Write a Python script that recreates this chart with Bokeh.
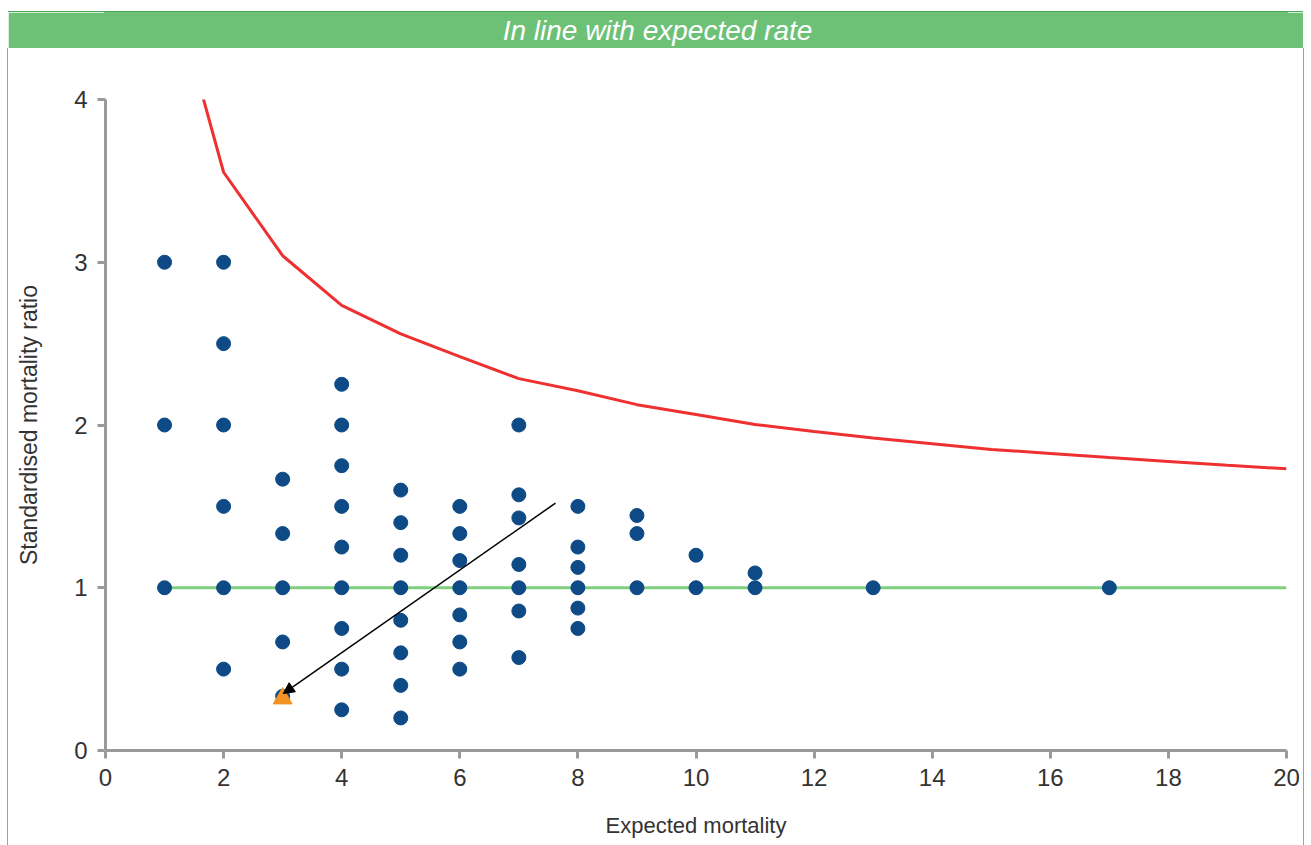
from bokeh.plotting import figure
from bokeh.models import Range1d, FixedTicker, Label, Arrow, NormalHead
from bokeh.layouts import column
from bokeh.embed import file_html
from bokeh.resources import INLINE

# ---------------- data ----------------
title_text = "In line with expected rate"
x_label = "Expected mortality"
y_label = "Standardised mortality ratio"

x_ticks = [0, 2, 4, 6, 8, 10, 12, 14, 16, 18, 20]
y_ticks = [0, 1, 2, 3, 4]

# observed units (expected mortality, SMR)
point_expected = (
    [1, 1, 1]
    + [2, 2, 2, 2, 2, 2]
    + [3, 3, 3, 3, 3]
    + [4, 4, 4, 4, 4, 4, 4, 4, 4]
    + [5, 5, 5, 5, 5, 5, 5, 5]
    + [6, 6, 6, 6, 6, 6, 6]
    + [7, 7, 7, 7, 7, 7, 7]
    + [8, 8, 8, 8, 8, 8]
    + [9, 9, 9]
    + [10, 10]
    + [11, 11]
    + [13]
    + [17]
)
point_smr = (
    [1.0, 2.0, 3.0]
    + [0.5, 1.0, 1.5, 2.0, 2.5, 3.0]
    + [0.333, 0.667, 1.0, 1.333, 1.667]
    + [0.25, 0.5, 0.75, 1.0, 1.25, 1.5, 1.75, 2.0, 2.25]
    + [0.2, 0.4, 0.6, 0.8, 1.0, 1.2, 1.4, 1.6]
    + [0.5, 0.667, 0.833, 1.0, 1.167, 1.333, 1.5]
    + [0.571, 0.857, 1.0, 1.143, 1.429, 1.571, 2.0]
    + [0.75, 0.875, 1.0, 1.125, 1.25, 1.5]
    + [1.0, 1.333, 1.444]
    + [1.0, 1.2]
    + [1.0, 1.091]
    + [1.0]
    + [1.0]
)

# upper control limit
limit_expected = [1, 2, 3, 4, 5, 6, 7, 8, 9, 10, 11, 12, 13, 14, 15, 16, 17, 18, 19, 20]
limit_upper = [4.87, 3.553, 3.04, 2.735, 2.56, 2.42, 2.285, 2.21, 2.125, 2.065,
               2.003, 1.96, 1.92, 1.885, 1.85, 1.825, 1.8, 1.776, 1.752, 1.731]

# target (expected rate) line
target_expected = [1, 20]
target_smr = [1.0, 1.0]

# highlighted unit
highlight_expected = [3]
highlight_smr = [0.32]

# arrow pointing to highlighted unit
arrow_start = (7.62, 1.52)
arrow_end = (3.01, 0.35)

FONT = "Liberation Sans"
HEADER_GREEN = "#6cc176"

# ---------------- header ----------------
header = figure(width=1295, height=36, x_range=Range1d(0, 1), y_range=Range1d(0, 1),
                toolbar_location=None, output_backend="svg",
                x_axis_location=None, y_axis_location=None,
                min_border_top=0, min_border_bottom=0, min_border_left=97, min_border_right=17,
                styles={"box-shadow": "0 -1px 0 #45a853"})
header.grid.visible = False
header.background_fill_color = HEADER_GREEN
header.border_fill_color = HEADER_GREEN
header.outline_line_color = HEADER_GREEN
header.outline_line_width = 3
header.add_layout(Label(x=0.4674, y=0.5, text=title_text, text_align="center",
                        text_baseline="middle", text_color="white",
                        text_font_style="italic", text_font_size="28px",
                        text_font=FONT))

# ---------------- main chart ----------------
p = figure(width=1295, height=797, x_range=Range1d(0, 20), y_range=Range1d(0, 4),
           toolbar_location=None, output_backend="svg",
           min_border_left=97, min_border_right=17, min_border_top=51, min_border_bottom=95,
           styles={"box-shadow": "-1px 0 0 #6cc176, 1px 0 0 #6cc176"})
p.grid.visible = False
p.outline_line_color = None
p.background_fill_color = "white"
p.border_fill_color = "white"

p.xaxis.ticker = FixedTicker(ticks=x_ticks)
p.yaxis.ticker = FixedTicker(ticks=y_ticks)
for ax in (p.xaxis[0], p.yaxis[0]):
    ax.axis_line_color = "#9a9a9a"
    ax.axis_line_width = 3
    ax.major_tick_line_color = "#9a9a9a"
    ax.major_tick_line_width = 3
    ax.major_tick_out = 8
    ax.major_tick_in = 0
    ax.minor_tick_line_color = None
    ax.major_label_text_font = FONT
    ax.major_label_text_font_size = "24px"
    ax.major_label_text_color = "#333333"
    ax.axis_label_text_font = FONT
    ax.axis_label_text_font_style = "normal"
    ax.axis_label_text_color = "#333333"

p.xaxis.axis_label = x_label
p.yaxis.axis_label = y_label
p.xaxis.axis_label_text_font_size = "22px"
p.yaxis.axis_label_text_font_size = "23px"
p.xaxis.major_label_standoff = 10
p.yaxis.major_label_standoff = 10
p.xaxis.axis_label_standoff = 24
p.yaxis.axis_label_standoff = 29

p.line(target_expected, target_smr, line_color="#7fcf7f", line_width=3)
p.line(limit_expected, limit_upper, line_color="#ee3030", line_width=3)
p.scatter(point_expected, point_smr, size=14, marker="circle",
          fill_color="#0d4a86", line_color="#0d4a86")
p.scatter(highlight_expected, highlight_smr, size=19, marker="triangle",
          fill_color="#f39325", line_color="#f39325")
p.add_layout(Arrow(end=NormalHead(size=11, fill_color="black", line_color="black"),
                   x_start=arrow_start[0], y_start=arrow_start[1],
                   x_end=arrow_end[0], y_end=arrow_end[1],
                   line_color="black", line_width=1.5))

layout = column(header, p, spacing=0, margin=(12, 0, 0, 8))
open("out.html", "w").write(file_html(layout, INLINE))
